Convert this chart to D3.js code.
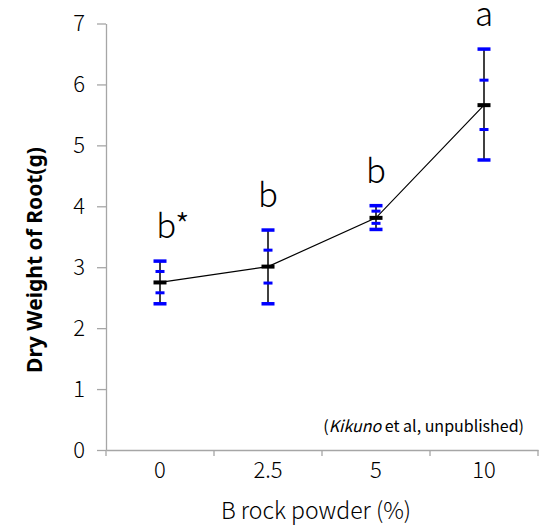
<!DOCTYPE html>
<html>
<head>
<meta charset="utf-8">
<script src="https://cdn.jsdelivr.net/npm/d3@7"></script>
<style>
  body { margin: 0; background: #fff; }
  text { font-family: "Noto Sans CJK JP", "Noto Sans", sans-serif; fill: #000; }
</style>
</head>
<body>
<div id="vis"></div>
<script>
// rock powder levels (%)
var categories = ['0', '2.5', '5', '10'];
// mean dry weight of root (g)
var means = [2.75, 3.01, 3.81, 5.66];
// outer error bar ends
var outerHi = [3.10, 3.61, 4.01, 6.58];
var outerLo = [2.40, 2.40, 3.62, 4.76];
// inner error bar ends
var innerHi = [2.93, 3.28, 3.92, 6.07];
var innerLo = [2.58, 2.74, 3.72, 5.26];
// significance letters
var letters = ['b*', 'b', 'b', 'a'];
var yTicks = [0, 1, 2, 3, 4, 5, 6, 7];

var width = 545;
var height = 526;
var margin = { top: 23.5, left: 106, bottom: 76, right: 7 };

var svg = d3.select('#vis').append('svg')
  .attr('width', width)
  .attr('height', height);

var x = d3.scaleBand()
  .domain(categories)
  .range([margin.left, width - margin.right])
  .padding(0);

var y = d3.scaleLinear()
  .domain([0, 7])
  .range([height - margin.bottom, margin.top]);

var axisColor = '#a6a6a6';

// y axis
var yAxis = svg.append('g')
  .attr('transform', 'translate(' + margin.left + ',0)')
  .call(d3.axisLeft(y)
    .tickValues(yTicks)
    .tickFormat(d3.format('d'))
    .tickSize(9).tickSizeOuter(0).tickPadding(12));
yAxis.select('.domain').attr('stroke', axisColor).attr('stroke-width', 1.3);
yAxis.selectAll('.tick line').attr('stroke', axisColor).attr('stroke-width', 1.3);
yAxis.selectAll('.tick text')
  .style('font-size', '22px')
  .style('font-weight', 300)
  .style('fill', '#000');

// x axis: labels at band centres, ticks at band edges
var y0 = y(0);
var xAxis = svg.append('g')
  .attr('transform', 'translate(0,' + y0 + ')')
  .call(d3.axisBottom(x).tickSize(0).tickSizeOuter(0).tickPadding(12));
xAxis.select('.domain').attr('stroke', axisColor).attr('stroke-width', 1.3);
xAxis.selectAll('.tick text')
  .style('font-size', '22px')
  .style('font-weight', 300)
  .style('fill', '#000');

var edges = categories.map(function (c) { return x(c); }).concat([x.range()[1]]);
svg.append('g')
  .selectAll('line')
  .data(edges)
  .join('line')
  .attr('x1', function (d) { return d; })
  .attr('x2', function (d) { return d; })
  .attr('y1', y0)
  .attr('y2', y0 + 6)
  .attr('stroke', axisColor)
  .attr('stroke-width', 1.3);

// axis titles
svg.append('text')
  .attr('x', 316)
  .attr('y', 519)
  .attr('text-anchor', 'middle')
  .style('font-size', '23px')
  .style('font-weight', 300)
  .text('B rock powder (%)');

svg.append('text')
  .attr('transform', 'translate(42,' + 260 + ') rotate(-90)')
  .attr('text-anchor', 'middle')
  .style('font-family', '"Noto Sans", sans-serif')
  .style('font-size', '21px')
  .style('font-weight', 'bold')
  .text('Dry Weight of Root(g)');

// source note
var note = svg.append('text')
  .attr('x', 524)
  .attr('y', 432)
  .attr('text-anchor', 'end')
  .style('font-size', '16px');
note.append('tspan').text('(');
note.append('tspan').style('font-style', 'italic').text('Kikuno');
note.append('tspan').text(' et al, unpublished)');

var cx = function (i) { return x(categories[i]) + x.bandwidth() / 2; };
var idx = d3.range(categories.length);

// line through the means
var line = d3.line()
  .x(function (i) { return cx(i); })
  .y(function (i) { return y(means[i]); });

svg.append('path')
  .attr('d', line(idx))
  .attr('fill', 'none')
  .attr('stroke', '#000')
  .attr('stroke-width', 1.2);

// error bars
var bars = svg.append('g').selectAll('g')
  .data(idx)
  .join('g');

bars.append('line')
  .attr('x1', cx).attr('x2', cx)
  .attr('y1', function (i) { return y(outerHi[i]); })
  .attr('y2', function (i) { return y(outerLo[i]); })
  .attr('stroke', '#000')
  .attr('stroke-width', 1.5);

function cap(values, w, h, color) {
  bars.append('rect')
    .attr('x', function (i) { return cx(i) - w / 2; })
    .attr('y', function (i) { return y(values[i]) - h / 2; })
    .attr('width', w)
    .attr('height', h)
    .attr('fill', color);
}
cap(outerHi, 13, 3.5, '#0000ff');
cap(outerLo, 13, 3.5, '#0000ff');
cap(innerHi, 9, 3, '#0000ff');
cap(innerLo, 9, 3, '#0000ff');
cap(means, 13, 4, '#000');

// significance letters
svg.append('g').selectAll('text')
  .data(idx)
  .join('text')
  .attr('x', cx)
  .attr('dx', function (i) { return letters[i].indexOf('*') >= 0 ? 13 : 0; })
  .attr('y', function (i) { return y(outerHi[i]) - 23; })
  .attr('text-anchor', 'middle')
  .style('font-size', '33px')
  .style('font-weight', 300)
  .text(function (i) { return letters[i]; });
</script>
</body>
</html>
